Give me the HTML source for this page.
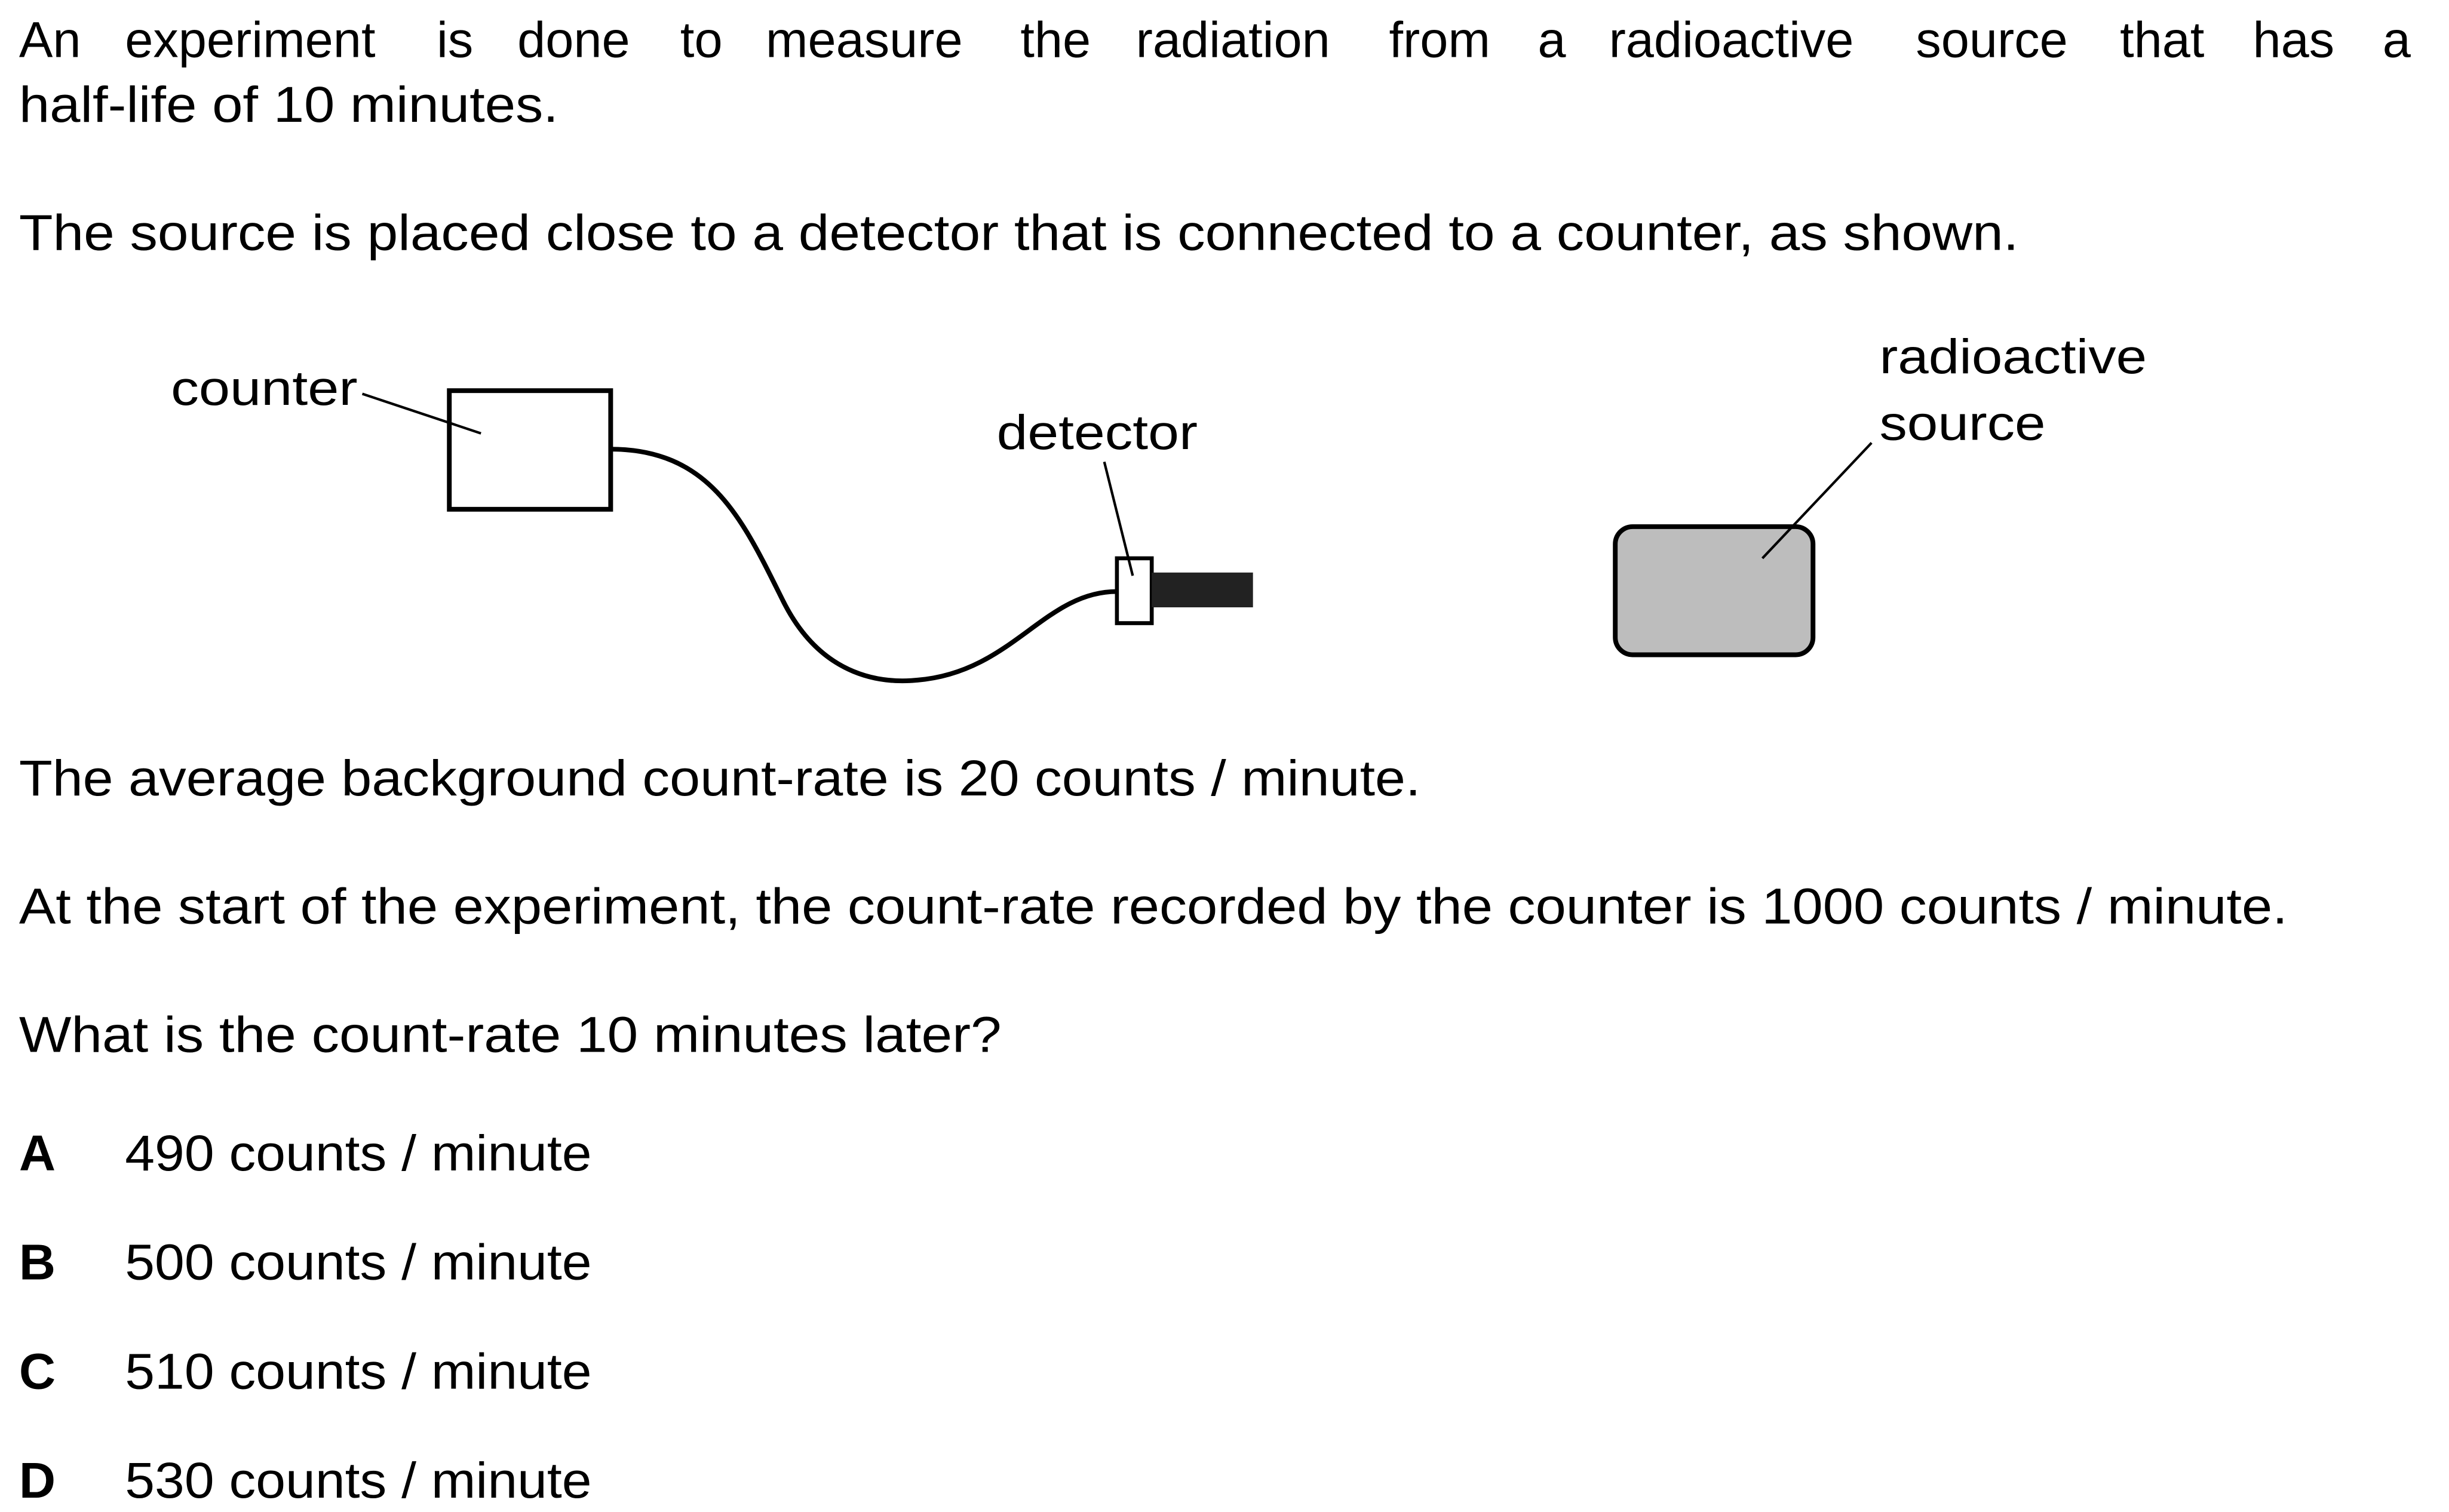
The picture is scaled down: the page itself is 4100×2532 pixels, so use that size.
<!DOCTYPE html>
<html><head><meta charset="utf-8"><style>
html,body{margin:0;padding:0;background:#fff;}
svg{display:block;}
text{font-family:"Liberation Sans",Arial,sans-serif;fill:#000;}
</style></head><body>
<svg width="4100" height="2532" viewBox="0 0 1548 956" xmlns="http://www.w3.org/2000/svg">
<g font-size="32">
<text y="36"><tspan x="12">An</tspan> <tspan x="79">experiment</tspan> <tspan x="276">is</tspan> <tspan x="327">done</tspan> <tspan x="430">to</tspan> <tspan x="484">measure</tspan> <tspan x="645">the</tspan> <tspan x="718">radiation</tspan> <tspan x="878">from</tspan> <tspan x="972">a</tspan> <tspan x="1017">radioactive</tspan> <tspan x="1211">source</tspan> <tspan x="1340">that</tspan> <tspan x="1424">has</tspan> <tspan x="1506">a</tspan></text>
<text x="12" y="77" textLength="341" lengthAdjust="spacingAndGlyphs">half-life of 10 minutes.</text>
<text x="12" y="158" textLength="1264" lengthAdjust="spacingAndGlyphs">The source is placed close to a detector that is connected to a counter, as shown.</text>
<text x="12" y="503" textLength="886" lengthAdjust="spacingAndGlyphs">The average background count-rate is 20 counts / minute.</text>
<text x="12" y="584" textLength="1434" lengthAdjust="spacingAndGlyphs">At the start of the experiment, the count-rate recorded by the counter is 1000 counts / minute.</text>
<text x="12" y="665" textLength="621" lengthAdjust="spacingAndGlyphs">What is the count-rate 10 minutes later?</text>
<text x="12" y="740" font-weight="bold">A</text>
<text x="79" y="740" textLength="295" lengthAdjust="spacingAndGlyphs">490 counts / minute</text>
<text x="12" y="809" font-weight="bold">B</text>
<text x="79" y="809" textLength="295" lengthAdjust="spacingAndGlyphs">500 counts / minute</text>
<text x="12" y="878" font-weight="bold">C</text>
<text x="79" y="878" textLength="295" lengthAdjust="spacingAndGlyphs">510 counts / minute</text>
<text x="12" y="947" font-weight="bold">D</text>
<text x="79" y="947" textLength="295" lengthAdjust="spacingAndGlyphs">530 counts / minute</text>
</g>
<g font-size="31">
<text x="108" y="256" textLength="118" lengthAdjust="spacingAndGlyphs">counter</text>
<text x="630" y="284" textLength="127" lengthAdjust="spacingAndGlyphs">detector</text>
<text x="1188" y="236" textLength="169" lengthAdjust="spacingAndGlyphs">radioactive</text>
<text x="1188" y="278" textLength="105" lengthAdjust="spacingAndGlyphs">source</text>
</g>
<g stroke="#000" fill="none">
<rect x="284" y="247" width="102" height="75" stroke-width="3" fill="#fff"/>
<line x1="229" y1="249" x2="304" y2="274" stroke-width="1.6"/>
<path d="M386 284 C 450 284, 470 330, 495 380 C 520 430, 560 432, 580 430 C 640 425, 660 374, 706 374" stroke-width="3"/>
<rect x="706" y="353" width="22" height="41" stroke-width="2.5" fill="#fff"/>
<rect x="728" y="362" width="64" height="22" fill="#222" stroke="none"/>
<line x1="698" y1="292" x2="716" y2="364" stroke-width="1.6"/>
<rect x="1021" y="333" width="125" height="81" rx="11" ry="11" fill="#bdbdbd" stroke-width="3"/>
<line x1="1183" y1="280" x2="1114" y2="353" stroke-width="1.6"/>
</g>
</svg>
</body></html>
